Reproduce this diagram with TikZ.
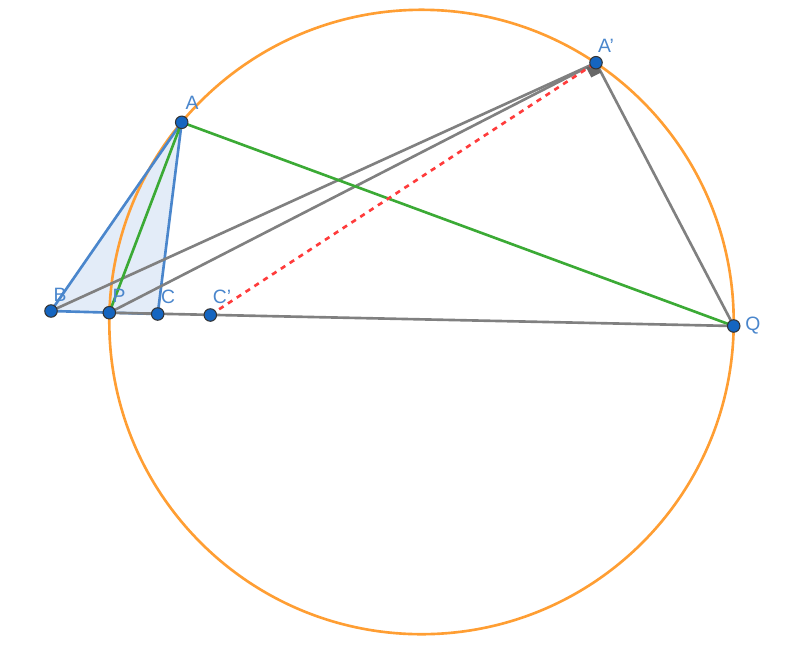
\documentclass[tikz,border=0pt]{standalone}
\usepackage{fontspec}
\setmainfont{Liberation Sans}
\usepackage{tikz}
\usetikzlibrary{arrows,calc}

\definecolor{ggorange}{HTML}{FF9E33}
\definecolor{ggblue}{HTML}{4A86CC}
\definecolor{ggpoint}{HTML}{1565C0}
\definecolor{gggreen}{HTML}{3BAA35}
\definecolor{gggray}{HTML}{808080}
\definecolor{ggred}{HTML}{FF3B3B}
\definecolor{ggfill}{HTML}{E3ECF8}

\tikzset{
  pt/.style={circle,draw=black!80,fill=ggpoint,inner sep=0pt,minimum size=0.25cm,line width=0.6pt},
  lbl/.style={text=ggblue,font=\fontsize{11}{13}\selectfont,inner sep=1pt},
  seg/.style={line width=1.5pt}
}

\begin{document}
\begin{tikzpicture}[x=0.02cm,y=-0.02cm]
                \useasboundingbox (0,0) rectangle (800,649);
                \coordinate (centre) at (421.5,322);
                \coordinate (a) at (181.7,122.3);
                \coordinate (b) at (51,311);
                \coordinate (p) at (109.3,312.7);
                \coordinate (c) at (157.7,314);
                \coordinate (cc) at (210.3,315);
                \coordinate (aa) at (596,62.7);
                \coordinate (q) at (733.7,326);

                % triangle
                \fill[ggfill] (a) -- (b) -- (c) -- cycle;
                \draw[ggorange,seg] (centre) circle (312.2);

                \draw[ggblue,seg]
                (a) edge (b)
                (a) edge (c)
                (b) edge (c);

                \draw[gggray,seg]
                (p) edge (q)
                (b) edge (aa)
                (p) edge (aa)
                (aa) edge (q);

                % right angle at A'
                \coordinate (r1) at ($(aa)!0.22cm!(p)$);
                \coordinate (r2) at ($(aa)!0.22cm!(q)$);
                \fill[gggray!80!black] (aa) -- (r1) -- ($(r1)+(r2)-(aa)$) -- (r2) -- cycle;

                \draw[gggreen,seg]
                (a) edge (p)
                (a) edge (q);

                \draw[ggred,seg,dashed] (cc) -- (aa);

                \node[pt] (A) at (a) {};
                \node[pt] (B) at (b) {};
                \node[pt] (P) at (p) {};
                \node[pt] (C) at (c) {};
                \node[pt] (Cp) at (cc) {};
                \node[pt] (Ap) at (aa) {};
                \node[pt] (Q) at (q) {};

                \node[lbl] (labA) at (192,103) {A};
                \node[lbl] (labB) at (60,295) {B};
                \node[lbl] (labP) at (119,296) {P};
                \node[lbl] (labC) at (168,297) {C};
                \node[lbl] (labCp) at (222,297) {C'};
                \node[lbl] (labAp) at (606,46) {A'};
                \node[lbl] (labQ) at (753,326) {Q};
            \end{tikzpicture}
\end{document}
